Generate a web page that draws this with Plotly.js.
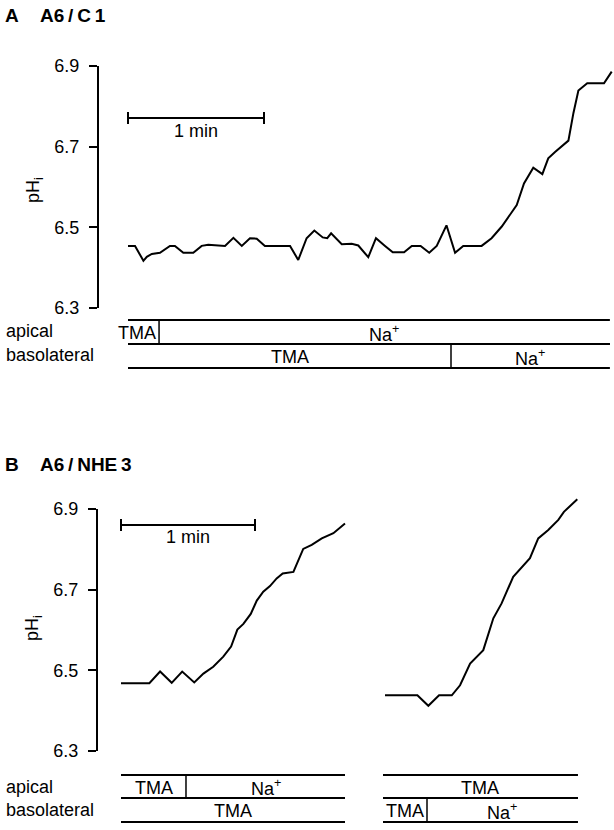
<!DOCTYPE html>
<html><head><meta charset="utf-8">
<script src="https://cdn.plot.ly/plotly-3.0.1.min.js"></script>
<style>html,body{margin:0;padding:0;background:#fff}</style>
</head><body><div id="chart" style="width:614px;height:830px"></div>
<script>
// ---- Panel A: A6/C1 (time in s, pHi) ----
const timeA = [0,3.1,6.8,8.3,10.5,14.1,18.5,20.7,24.4,28.8,32.5,35.4,42.8,46.5,50.2,53.8,56.8,60.4,71.5,75.1,78.8,82.2,85.9,87.9,89.6,94.3,98.7,101.6,106.0,109.4,113.4,116.8,121.8,125.2,129.1,132.9,136.2,140.5,144.3,147.9,156.0,160.4,164.9,167.8,171.5,174.7,178.8,182.8,185.4,188.4,194.3,196.5,198.7,202.6,210.0,213.4];
const phA = [6.454,6.454,6.417,6.427,6.434,6.437,6.454,6.454,6.437,6.437,6.454,6.457,6.454,6.474,6.454,6.473,6.472,6.454,6.454,6.419,6.473,6.492,6.475,6.473,6.485,6.458,6.459,6.455,6.426,6.473,6.454,6.438,6.438,6.454,6.454,6.437,6.454,6.505,6.437,6.454,6.454,6.473,6.502,6.526,6.555,6.609,6.648,6.632,6.671,6.687,6.715,6.783,6.839,6.857,6.857,6.886];
// ---- Panel B: A6/NHE3, two recordings ----
const timeB1 = [0,12.7,17.5,22.7,27.4,32.8,36.9,41.3,45.8,49.3,52.1,54.8,58.1,60.8,63.7,66.7,69.7,72.4,77.2,81.6,85.4,89.9,95.1,100.3];
const phB1 = [6.468,6.468,6.497,6.469,6.497,6.470,6.492,6.509,6.534,6.559,6.601,6.615,6.640,6.673,6.695,6.709,6.728,6.740,6.744,6.801,6.811,6.827,6.840,6.864];
const timeB2 = [0.9,15.4,20.3,25.1,30.8,34.5,39.0,44.9,49.4,53.1,58.3,65.8,69.5,74.0,78.5,81.0,87.0];
const phB2 = [6.438,6.438,6.412,6.438,6.438,6.463,6.517,6.550,6.629,6.666,6.732,6.778,6.827,6.848,6.873,6.893,6.924];
// ---- ticks ----
const yTicks = [6.3, 6.5, 6.7, 6.9];
const yTickLabels = ['6.3', '6.5', '6.7', '6.9'];
// ---- solution bars (segment edges in s, labels) ----
const NA = 'Na<sup>+</sup>';
const apicalA_edges = [0, 13.7, 212.6];  const apicalA_labels = ['TMA', NA];
const basoA_edges   = [0, 142.5, 212.6]; const basoA_labels   = ['TMA', NA];
const apicalB1_edges = [0, 29.1, 100.3]; const apicalB1_labels = ['TMA', NA];
const basoB1_edges   = [0, 100.3];       const basoB1_labels   = ['TMA'];
const apicalB2_edges = [0, 87.3];        const apicalB2_labels = ['TMA'];
const basoB2_edges   = [0, 19.7, 87.3];  const basoB2_labels   = ['TMA', NA];
const scaleBarSec = 60;

const W = 614, H = 830;
const py = v => 1 - v / H;
const FONT = 'Liberation Sans, Arial, sans-serif';
const shapes = [], annotations = [];

function hline(xref, x0, x1, yPx, w) {
  shapes.push({type:'line', xref, yref:'paper', x0, x1, y0:py(yPx), y1:py(yPx), line:{color:'#000', width:w}});
}
function vline(xref, x, y0Px, y1Px, w) {
  shapes.push({type:'line', xref, yref:'paper', x0:x, x1:x, y0:py(y0Px), y1:py(y1Px), line:{color:'#000', width:w}});
}
function row(xref, edges, labels, topPx, botPx, pxPerSec) {
  const a = edges[0], b = edges[edges.length-1];
  hline(xref, a, b, topPx, 2);
  hline(xref, a, b, botPx, 2);
  for (let i = 1; i < edges.length - 1; i++) vline(xref, edges[i], topPx, botPx, 1.5);
  for (let i = 0; i < labels.length; i++) {
    const s = edges[i], e = edges[i+1];
    const narrow = (e - s) * pxPerSec < 42;
    annotations.push({xref, yref:'paper', x: narrow ? e : (s+e)/2, y: py((topPx+botPx)/2 + 1),
      xanchor: narrow ? 'right' : 'center', xshift: narrow ? -1 : 0, yanchor:'middle',
      text: labels[i], showarrow:false, font:{family:FONT, size:18, color:'#000'}});
  }
}
function scaleBar(xref, yPx, textPx) {
  hline(xref, 0, scaleBarSec, yPx, 2);
  vline(xref, 0, yPx-6, yPx+6, 2);
  vline(xref, scaleBarSec, yPx-6, yPx+6, 2);
  annotations.push({xref, yref:'paper', x: scaleBarSec/2, y: py(textPx), text:'1 min', showarrow:false,
    xanchor:'center', yanchor:'middle', font:{family:FONT, size:18, color:'#000'}});
}
function textPx(x, y, text, size, bold, extra) {
  annotations.push(Object.assign({xref:'paper', yref:'paper', x: x/W, y: py(y), text: bold ? '<b>'+text+'</b>' : text,
    showarrow:false, xanchor:'left', yanchor:'middle', font:{family:FONT, size, color:'#000'}}, extra||{}));
}

// Panel A bars / scale bar
const pxA = 136/60, pxB = 134/60;
row('x', apicalA_edges, apicalA_labels, 320, 344, pxA);
row('x', basoA_edges, basoA_labels, 344, 368, pxA);
scaleBar('x', 118, 131);
// Panel B bars / scale bars
row('x2', apicalB1_edges, apicalB1_labels, 775, 798, pxB);
row('x2', basoB1_edges, basoB1_labels, 798, 822, pxB);
row('x3', apicalB2_edges, apicalB2_labels, 775, 798, pxB);
row('x3', basoB2_edges, basoB2_labels, 798, 822, pxB);
scaleBar('x2', 525, 537);

// Text labels
const TS = '\u2009';
textPx(3, 15, 'A', 19, true);
textPx(38, 15, 'A6' + TS + '/' + TS + 'C' + TS + '1', 19, true);
textPx(3, 464, 'B', 19, true);
textPx(38, 464, 'A6' + TS + '/' + TS + 'NHE' + TS + '3', 19, true);
textPx(4, 331, 'apical', 18, false);
textPx(4, 355, 'basolateral', 18, false);
textPx(4, 787, 'apical', 18, false);
textPx(4, 810, 'basolateral', 18, false);
textPx(35, 190, 'pH<sub>i</sub>', 18, false, {xanchor:'center', textangle:-90});
textPx(33, 628, 'pH<sub>i</sub>', 18, false, {xanchor:'center', textangle:-90});

const yAxisCommon = {range:[6.3, 6.9], tickvals:yTicks, ticktext:yTickLabels, ticks:'outside', ticklen:8,
  tickwidth:2, tickcolor:'#000', showline:true, linecolor:'#000', linewidth:2, showgrid:false, zeroline:false,
  tickfont:{family:FONT, size:18, color:'#000'}, ticklabelstandoff:6, fixedrange:true};

// invisible companion y-axis for the second B recording: same scale, taller so the trace is not clipped
const pxPerPH = (751 - 509) / 0.6;
const topB2 = 480;

const line = {color:'#000', width:2};
const data = [
  {x: timeA, y: phA, type:'scatter', mode:'lines', line, xaxis:'x', yaxis:'y', hoverinfo:'skip'},
  {x: timeB1, y: phB1, type:'scatter', mode:'lines', line, xaxis:'x2', yaxis:'y2', hoverinfo:'skip'},
  {x: timeB2, y: phB2, type:'scatter', mode:'lines', line, xaxis:'x3', yaxis:'y3', hoverinfo:'skip'}
];
const layout = {
  width: W, height: H, margin:{l:0, r:0, t:0, b:0}, paper_bgcolor:'#fff', plot_bgcolor:'rgba(0,0,0,0)',
  showlegend:false,
  xaxis:{domain:[99/W, 1], range:[-(128-99)/pxA, (614-128)/pxA], visible:false, anchor:'y', fixedrange:true},
  yaxis:Object.assign({domain:[py(308), py(66)], anchor:'x'}, yAxisCommon),
  xaxis2:{domain:[98/W, 360/W], range:[-(121-98)/pxB, (360-121)/pxB], visible:false, anchor:'y2', fixedrange:true},
  yaxis2:Object.assign({domain:[py(751), py(509)], anchor:'x2'}, yAxisCommon),
  xaxis3:{domain:[383/W, 590/W], range:[0, (590-383)/pxB], visible:false, anchor:'y3', fixedrange:true},
  yaxis3:{domain:[py(751), py(topB2)], range:[6.3, 6.3 + (751 - topB2)/pxPerPH], visible:false, anchor:'x3', fixedrange:true},
  shapes, annotations
};
Plotly.newPlot('chart', data, layout, {staticPlot:true, displayModeBar:false});
</script></body></html>
